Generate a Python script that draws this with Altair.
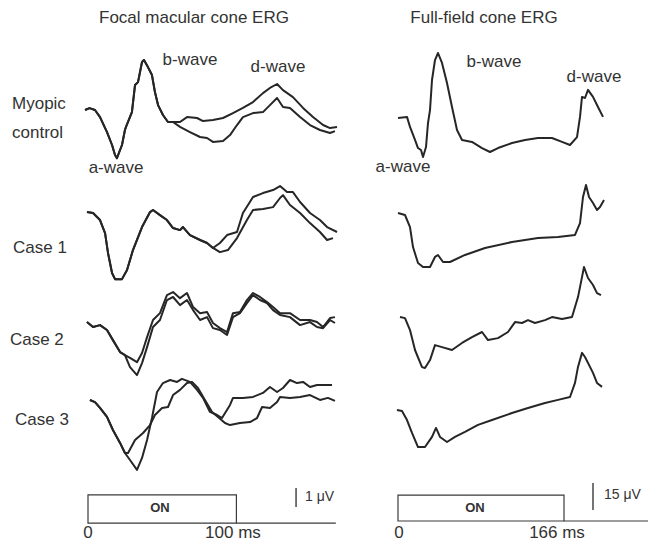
import altair as alt
import pandas as pd

# ---------------- Focal macular cone ERG  (time in ms, amplitude in µV) ----------------
focal_rows = ["Myopic control", "Case 1", "Case 2", "Case 3"]

focal_myopic_common = [(-2.0, 0.0), (1.0, 0.1), (4.7, 0.0), (8.1, -0.37), (12.8, -1.16), (16.2, -1.84),
                       (18.2, -2.37), (19.5, -2.53), (22.9, -1.84), (24.9, -1.05), (25.6, -0.89),
                       (29.6, -0.11), (31.7, 1.32), (33.7, 1.47), (36.4, 2.53), (37.7, 2.63),
                       (40.4, 2.26), (43.1, 1.84), (45.1, 0.95), (47.2, 0.26), (50.5, -0.26),
                       (53.9, -0.63), (57.3, -0.63)]
focal_myopic_a = [(62.0, -0.63), (66.7, -0.37), (73.5, -0.42), (77.5, -0.58), (84.2, -0.53), (91.0, -0.42),
                  (97.7, -0.16), (104.4, 0.11), (111.2, 0.42), (117.9, 0.89), (122.6, 1.16), (127.4, 1.37),
                  (131.4, 1.05), (138.1, 0.68), (144.9, 0.11), (151.6, -0.37), (158.4, -0.79),
                  (163.1, -0.95), (167.8, -0.89)]
focal_myopic_b = [(62.0, -0.89), (68.7, -1.16), (75.5, -1.42), (80.2, -1.47), (84.2, -1.68), (91.0, -1.63),
                  (95.7, -1.32), (100.4, -0.79), (104.4, -0.37), (111.2, -0.16), (117.9, -0.11),
                  (122.6, 0.26), (127.4, 0.63), (131.4, 0.16), (136.1, 0.11), (142.9, -0.37),
                  (149.6, -0.79), (156.3, -1.05), (163.1, -1.21), (166.4, -1.11)]

focal_case1_common = [(-0.7, 0.0), (3.4, -0.05), (8.1, -0.42), (11.5, -1.11), (13.5, -2.16), (16.2, -3.21),
                      (18.2, -3.53), (22.9, -3.53), (26.3, -3.05), (30.3, -2.0), (36.4, -0.79),
                      (41.8, 0.0), (43.8, 0.11), (48.5, -0.16), (53.2, -0.42), (57.3, -0.84),
                      (62.0, -0.95), (64.0, -0.79), (68.7, -1.21), (75.5, -1.47), (80.2, -1.63),
                      (84.2, -1.89)]
focal_case1_a = [(88.9, -1.63), (93.7, -1.21), (100.4, -1.05), (104.4, -0.05), (111.2, 0.79), (117.9, 1.0),
                 (124.7, 1.16), (129.4, 1.37), (134.1, 1.05), (138.1, 1.05), (142.9, 0.53),
                 (149.6, -0.05), (156.3, -0.42), (161.1, -0.79), (167.8, -1.05)]
focal_case1_b = [(88.9, -2.11), (94.3, -2.0), (100.4, -1.37), (107.1, -0.42), (111.2, 0.11), (117.9, 0.16),
                 (124.7, 0.26), (129.4, 0.74), (131.4, 0.89), (136.1, 0.37), (142.9, -0.05),
                 (149.6, -0.58), (156.3, -1.05), (161.1, -1.47), (165.1, -1.37)]

focal_case2_common = [(-0.7, 0.0), (3.4, -0.26), (8.1, -0.16), (12.8, -0.42), (16.8, -0.95),
                      (21.6, -1.58), (24.9, -1.74)]
focal_case2_a = [(28.3, -1.89), (33.0, -2.11), (36.4, -1.63), (39.8, -0.79), (43.8, 0.11), (48.5, 0.47),
                 (53.2, 1.42), (57.3, 1.58), (62.0, 1.26), (66.7, 1.53), (70.8, 0.79), (75.5, 0.47),
                 (80.2, 0.53), (84.2, -0.05), (88.9, -0.32), (93.7, -0.53), (97.7, 0.47), (102.4, 0.53),
                 (107.1, 1.16), (111.2, 1.53), (115.9, 1.32), (120.6, 1.05), (124.7, 0.79),
                 (129.4, 0.47), (136.1, 0.47), (142.9, 0.11), (149.6, 0.11), (154.3, 0.0),
                 (158.4, -0.26), (163.1, 0.21), (166.4, 0.26)]
focal_case2_b = [(28.3, -2.37), (33.0, -2.79), (36.4, -2.16), (39.8, -1.32), (43.8, -0.26), (48.5, 0.11),
                 (53.2, 1.16), (57.3, 1.32), (62.0, 0.89), (66.7, 1.16), (70.8, 0.63), (75.5, 0.11),
                 (80.2, 0.26), (84.2, -0.32), (88.9, -0.42), (93.7, -0.68), (97.7, 0.26), (102.4, 0.47),
                 (107.1, 1.0), (111.2, 1.42), (115.9, 1.16), (120.6, 1.0), (124.7, 0.63),
                 (129.4, 0.37), (136.1, 0.26), (142.9, -0.16), (149.6, 0.0), (154.3, -0.26),
                 (158.4, -0.32), (163.1, 0.11), (166.4, -0.05)]

focal_case3_common = [(1.3, 0.0), (4.7, -0.11), (8.1, -0.42), (12.8, -0.89), (16.8, -1.58),
                      (21.6, -2.26), (24.9, -2.79)]
focal_case3_a = [(28.3, -3.16), (33.0, -3.68), (36.4, -3.05), (39.8, -2.11), (43.1, -0.95), (46.5, 0.42),
                 (50.5, 0.89), (55.3, 1.05), (60.0, 0.95), (63.3, 1.11), (68.7, 0.95), (73.5, 0.53),
                 (77.5, 0.11), (82.2, -0.63), (87.0, -0.79), (90.3, -0.95), (95.7, -0.26),
                 (97.7, 0.11), (104.4, 0.11), (111.2, 0.16), (117.9, 0.37), (122.6, 0.68),
                 (127.4, 0.42), (131.4, 0.63), (136.1, 1.05), (140.8, 0.89), (144.9, 0.95),
                 (149.6, 0.68), (154.3, 0.79), (158.4, 0.79), (164.4, 0.79)]
focal_case3_b = [(27.0, -2.79), (31.7, -2.11), (37.1, -1.74), (41.8, -1.32), (45.1, -0.79), (49.9, -0.42),
                 (53.9, -0.37), (57.3, 0.26), (62.0, 0.53), (66.7, 0.89), (70.1, 0.95), (74.1, 0.63),
                 (78.8, 0.0), (83.6, -0.63), (87.6, -0.89), (92.3, -1.21), (95.7, -1.32),
                 (102.4, -1.21), (109.2, -1.16), (113.9, -0.95), (117.3, -0.37), (122.6, -0.42),
                 (127.4, -0.11), (129.4, 0.16), (136.1, 0.11), (142.9, 0.16), (149.6, 0.26),
                 (156.3, 0.0), (161.7, 0.11), (166.4, -0.05)]

# ---------------- Full-field cone ERG  (time in ms, amplitude in µV) ----------------
full_myopic = [(0, 0.0), (9, 0.6), (12, -5.0), (17, -12.2), (20, -16.7), (23, -17.8), (25, -21.7),
               (28, -16.1), (30, -2.8), (32, 4.4), (34, 21.1), (37, 32.2), (40, 36.1), (44, 30.6),
               (49, 19.4), (54, 6.1), (59, -6.7), (64, -12.2), (74, -13.3), (84, -16.7), (92, -18.9),
               (100, -16.7), (114, -13.9), (127, -12.2), (140, -11.1), (154, -11.1), (164, -13.3),
               (172, -15.0), (179, -10.6), (182, 0.6), (184, 11.7), (187, 11.1), (190, 15.6),
               (195, 11.7), (200, 6.1), (205, 0.6)]
full_case1 = [(0, 0.0), (7, -1.1), (12, -7.8), (15, -18.9), (20, -27.8), (25, -30.0), (32, -30.0),
              (37, -24.4), (40, -23.3), (45, -27.2), (52, -27.2), (67, -23.3), (87, -19.4),
              (114, -16.1), (140, -13.9), (160, -13.3), (177, -12.2), (182, -5.6), (185, 8.9),
              (188, 15.6), (191, 8.9), (195, 5.6), (199, 1.7), (202, 3.3), (206, 7.2)]
full_case2 = [(2, 0.0), (7, -0.6), (12, -7.2), (17, -18.3), (24, -27.8), (27, -28.3), (32, -23.9),
              (37, -15.6), (44, -16.7), (54, -18.3), (64, -14.4), (74, -11.1), (84, -8.3),
              (90, -12.8), (100, -11.7), (110, -8.3), (117, -2.8), (124, -3.3), (130, -1.7),
              (137, -3.3), (147, -1.7), (154, 0.0), (164, -1.1), (174, 0.0), (180, 11.1),
              (184, 22.2), (186, 27.8), (190, 21.7), (195, 17.8), (199, 13.3), (203, 12.2)]
full_case3 = [(-1, 0.0), (4, -0.6), (9, -5.6), (14, -12.8), (20, -20.6), (27, -20.6), (34, -15.0),
              (38, -10.0), (42, -15.0), (49, -17.8), (57, -15.0), (67, -12.2), (80, -8.3),
              (94, -5.6), (114, -1.7), (130, 1.1), (147, 3.9), (160, 5.6), (172, 7.2), (177, 15.0),
              (180, 23.9), (184, 31.7), (187, 29.4), (192, 23.9), (195, 20.6), (199, 15.0),
              (204, 12.8)]

# stimulus (ms) and calibration bars
focal_on = [0, 100]
focal_trace_end = 167
full_on = [0, 166]
full_trace_end = 250
focal_cal_uv = 1
full_cal_uv = 15

# ---------------- layout (not data) ----------------
W, H = 641, 535
L_PX_PER_MS, L_PX_PER_UV, L_X0 = 1.484, 19.0, 80
R_PX_PER_MS, R_PX_PER_UV, R_X0 = 1.0, 1.8, 390
focal_offset = {"Myopic control": -5.37, "Case 1": -10.74, "Case 2": -16.53, "Case 3": -20.63}
full_offset = {"Myopic control": -61.1, "Case 1": -113.9, "Case 2": -171.7, "Case 3": -223.3}

xL = alt.Scale(domain=[-L_X0 / L_PX_PER_MS, (W - L_X0) / L_PX_PER_MS], nice=False, zero=False)
yL = alt.Scale(domain=[-H / L_PX_PER_UV, 0], nice=False, zero=False)
xR = alt.Scale(domain=[-R_X0 / R_PX_PER_MS, (W - R_X0) / R_PX_PER_MS], nice=False, zero=False)
yR = alt.Scale(domain=[-H / R_PX_PER_UV, 0], nice=False, zero=False)


def build(traces, offsets):
    rows = []
    for name, (row, pts) in traces.items():
        for i, (t, a) in enumerate(pts):
            rows.append({"trace": name, "i": i, "t": t, "v": a + offsets[row]})
    return pd.DataFrame(rows)


focal_df = build({
    "myo_a": ("Myopic control", focal_myopic_common + focal_myopic_a),
    "myo_b": ("Myopic control", focal_myopic_common + focal_myopic_b),
    "c1_a": ("Case 1", focal_case1_common + focal_case1_a),
    "c1_b": ("Case 1", focal_case1_common + focal_case1_b),
    "c2_a": ("Case 2", focal_case2_common + focal_case2_a),
    "c2_b": ("Case 2", focal_case2_common + focal_case2_b),
    "c3_a": ("Case 3", focal_case3_common + focal_case3_a),
    "c3_b": ("Case 3", focal_case3_common + focal_case3_b),
}, focal_offset)

full_df = build({
    "myo": ("Myopic control", full_myopic),
    "c1": ("Case 1", full_case1),
    "c2": ("Case 2", full_case2),
    "c3": ("Case 3", full_case3),
}, full_offset)

INK = "#262626"
FONT = "Liberation Sans"


def lines(df, xs, ys):
    return alt.Chart(df).mark_line(color=INK, strokeWidth=2.0, strokeJoin="round").encode(
        x=alt.X("t:Q", scale=xs, axis=None),
        y=alt.Y("v:Q", scale=ys, axis=None),
        detail="trace:N",
        order="i:Q",
    )


def texts(df, xs, ys, align="center", size=17, weight="normal", baseline="middle"):
    return alt.Chart(df).mark_text(align=align, baseline=baseline, font=FONT, fontSize=size,
                                   fontWeight=weight, color="#333333").encode(
        x=alt.X("t:Q", scale=xs, axis=None),
        y=alt.Y("v:Q", scale=ys, axis=None),
        text="label:N",
    )


# ---- labels (positions in each panel's ms / µV units) ----
focal_center_labels = pd.DataFrame({
    "label": ["Focal macular cone ERG", "b-wave", "d-wave", "a-wave"],
    "t": [71.4, 68.7, 128.0, 18.9],
    "v": [-0.53, -2.74, -3.11, -8.42],
})
row_labels = pd.DataFrame({
    "label": ["Myopic", "control", "Case 1", "Case 2", "Case 3"],
    "t": [-51.2, -51.2, -50.5, -52.6, -49.2],
    "v": [-5.05, -6.58, -12.63, -17.47, -21.68],
})
focal_bottom = pd.DataFrame({"label": ["0", "100 ms"], "t": [0.0, 97.7], "v": [-27.9, -27.9]})
focal_cal_label = pd.DataFrame({"label": ["1 μV"], "t": [146.2], "v": [-25.74]})
focal_on_label = pd.DataFrame({"label": ["ON"], "t": [48.5], "v": [-26.32]})

full_center_labels = pd.DataFrame({
    "label": ["Full-field cone ERG", "b-wave", "d-wave", "a-wave"],
    "t": [86.0, 96.0, 196.0, 5.0],
    "v": [-5.6, -30.0, -38.3, -88.3],
})
full_bottom = pd.DataFrame({"label": ["0", "166 ms"], "t": [1.0, 159.0], "v": [-294.5, -294.5]})
full_cal_label = pd.DataFrame({"label": ["15 μV"], "t": [206.0], "v": [-270.6]})
full_on_label = pd.DataFrame({"label": ["ON"], "t": [77.0], "v": [-277.8]})

# ---- stimulus boxes, baselines and calibration bars ----
focal_box = pd.DataFrame({"t": [focal_on[0]], "t2": [focal_on[1]], "v": [-25.63], "v2": [-27.11]})
focal_base = pd.DataFrame({"t": [focal_on[1]], "t2": [focal_trace_end], "v": [-27.11]})
focal_cal = pd.DataFrame({"t": [140.2], "v": [-25.26], "v2": [-25.26 - focal_cal_uv]})
full_box = pd.DataFrame({"t": [full_on[0]], "t2": [full_on[1]], "v": [-270.6], "v2": [-285.0]})
full_base = pd.DataFrame({"t": [full_on[1]], "t2": [full_trace_end], "v": [-285.0]})
full_cal = pd.DataFrame({"t": [195.0], "v": [-263.9], "v2": [-263.9 - full_cal_uv]})


def box(df, xs, ys):
    return alt.Chart(df).mark_rect(fill="white", stroke="#3a3a3a", strokeWidth=1.2).encode(
        x=alt.X("t:Q", scale=xs, axis=None), x2="t2:Q",
        y=alt.Y("v:Q", scale=ys, axis=None), y2="v2:Q",
    )


def hrule(df, xs, ys):
    return alt.Chart(df).mark_rule(color="#3a3a3a", strokeWidth=1.2).encode(
        x=alt.X("t:Q", scale=xs, axis=None), x2="t2:Q",
        y=alt.Y("v:Q", scale=ys, axis=None),
    )


def vrule(df, xs, ys):
    return alt.Chart(df).mark_rule(color="#3a3a3a", strokeWidth=1.4).encode(
        x=alt.X("t:Q", scale=xs, axis=None),
        y=alt.Y("v:Q", scale=ys, axis=None), y2="v2:Q",
    )


layers = [
    lines(focal_df, xL, yL),
    texts(focal_center_labels, xL, yL),
    texts(row_labels, xL, yL, align="left"),
    texts(focal_bottom, xL, yL, baseline="alphabetic"),
    texts(focal_cal_label, xL, yL, align="left", size=14),
    box(focal_box, xL, yL),
    hrule(focal_base, xL, yL),
    vrule(focal_cal, xL, yL),
    texts(focal_on_label, xL, yL, size=13, weight="bold"),
    lines(full_df, xR, yR),
    texts(full_center_labels, xR, yR),
    texts(full_bottom, xR, yR, baseline="alphabetic"),
    texts(full_cal_label, xR, yR, align="left", size=14),
    box(full_box, xR, yR),
    hrule(full_base, xR, yR),
    vrule(full_cal, xR, yR),
    texts(full_on_label, xR, yR, size=13, weight="bold"),
]

chart = alt.layer(*layers).resolve_scale(x="independent", y="independent").properties(
    width=W, height=H, padding=0,
    autosize=alt.AutoSizeParams(type="none"),
    background="white",
).configure_view(stroke=None)

chart.save("out.html", embed_options={"renderer": "svg", "actions": False})
